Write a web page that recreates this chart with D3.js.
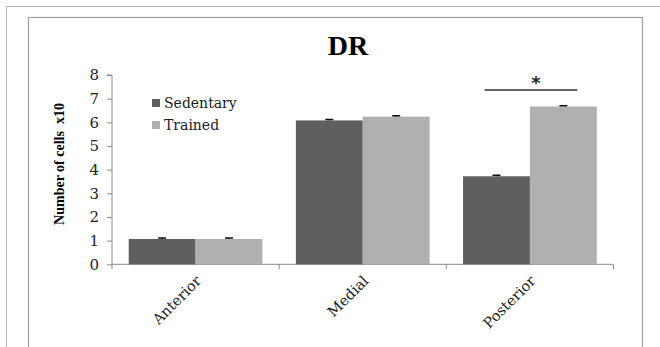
<!DOCTYPE html>
<html><head><meta charset="utf-8">
<script src="https://cdn.jsdelivr.net/npm/d3@7"></script>
<style>body{margin:0;background:#fff}svg{display:block}</style>
</head><body>
<script>
const categories = ["Anterior", "Medial", "Posterior"];
const seriesNames = ["Sedentary", "Trained"];
const sedentary = [1.07, 6.08, 3.72];
const trained = [1.07, 6.24, 6.67];
const sedErr = [0.04, 0.04, 0.04];
const trErr = [0.04, 0.04, 0.03];
const yTicks = [0, 1, 2, 3, 4, 5, 6, 7, 8];
const sigLevel = 7.37;

const W = 660, H = 347;
const svg = d3.select("body").append("svg").attr("width", W).attr("height", H);
const colors = ["#5f5f5f", "#b0b0b0"];

svg.append("path").attr("d", "M6.5,347 V6.5 H660").attr("fill", "none").attr("stroke", "#b8b8b8").attr("stroke-width", 1);
svg.append("rect").attr("x", 28.5).attr("y", 17.5).attr("width", 614).attr("height", 340)
  .attr("fill", "#fff").attr("stroke", "#a0a0a0").attr("stroke-width", 1.2);

const x0 = d3.scaleBand().domain(categories).range([112, 613.5]).paddingInner(0.2).paddingOuter(0.1);
const x0full = d3.scaleBand().domain(categories).range([112, 613.5]);
const x1 = d3.scaleBand().domain(seriesNames).range([0, x0.bandwidth()]);
const y = d3.scaleLinear().domain([0, 8]).range([264.3, 75]);

svg.append("text").attr("x", 348).attr("y", 55).attr("text-anchor", "middle")
  .attr("font-family", "Liberation Serif, serif").attr("font-weight", "bold").attr("font-size", 28).text("DR");

const ya = svg.append("g").attr("transform", "translate(112,0)")
  .call(d3.axisLeft(y).tickValues(yTicks).tickSize(5).tickPadding(8).tickFormat(d3.format("d")));
ya.select(".domain").attr("stroke", "#8a8a8a").attr("d", "M-5,75 H0 V264.3");
ya.selectAll(".tick line").attr("stroke", "#8a8a8a");
ya.selectAll(".tick text").attr("font-family", "DejaVu Serif, serif").attr("font-size", 15).attr("fill", "#222");

const xa = svg.append("g").attr("transform", "translate(0,264.3)");
xa.append("line").attr("x1", 112).attr("x2", 613.5).attr("y1", 0).attr("y2", 0).attr("stroke", "#8a8a8a");
const bounds = [x0full.range()[0]].concat(categories.map(c => x0full(c) + x0full.bandwidth()));
xa.selectAll("line.tk").data(bounds).enter().append("line").attr("class", "tk")
  .attr("x1", d => d).attr("x2", d => d).attr("y1", 0).attr("y2", 5).attr("stroke", "#8a8a8a");
xa.selectAll("text").data(categories).enter().append("text")
  .attr("transform", d => `translate(${x0full(d) + x0full.bandwidth() / 2 + 3},${14}) rotate(-45)`)
  .attr("text-anchor", "end").attr("dy", "0.35em")
  .attr("font-family", "DejaVu Serif, serif").attr("font-size", 14.5).attr("fill", "#222").text(d => d);

svg.append("text").attr("transform", "translate(64,164) rotate(-90)").attr("text-anchor", "middle")
  .attr("font-family", "Liberation Serif, serif").attr("font-weight", "bold").attr("font-size", 14)
  .attr("xml:space", "preserve").text("Number of cells  x10");

const series = [sedentary, trained];
const errs = [sedErr, trErr];
seriesNames.forEach((s, si) => {
  const g = svg.append("g");
  g.selectAll("rect").data(categories).enter().append("rect")
    .attr("x", c => x0(c) + x1(s)).attr("width", x1.bandwidth())
    .attr("y", (c, i) => y(series[si][i])).attr("height", (c, i) => y(0) - y(series[si][i]))
    .attr("fill", colors[si]);
  g.selectAll("path.err").data(categories).enter().append("path").attr("class", "err")
    .attr("d", (c, i) => {
      const cx = x0(c) + x1(s) + x1.bandwidth() / 2;
      const v = series[si][i], e = errs[si][i];
      return `M${cx},${y(v)} V${y(v + e)} M${cx - 4},${y(v + e)} H${cx + 4}`;
    })
    .attr("stroke", "#111").attr("stroke-width", 1.5).attr("fill", "none");
});

const pc = "Posterior";
const sx1 = x0(pc) + x1("Sedentary") + x1.bandwidth() / 2 - 12;
const sx2 = x0(pc) + x1("Trained") + x1.bandwidth() / 2 + 14;
svg.append("line").attr("x1", sx1).attr("x2", sx2).attr("y1", y(sigLevel)).attr("y2", y(sigLevel))
  .attr("stroke", "#333").attr("stroke-width", 1.5);
svg.append("text").attr("x", (sx1 + sx2) / 2 + 5).attr("y", y(sigLevel) - 1).attr("text-anchor", "middle")
  .attr("font-family", "DejaVu Sans, sans-serif").attr("font-weight", "bold").attr("font-size", 18).attr("fill", "#222").text("*");

const lg = svg.append("g").attr("transform", "translate(152,103)");
seriesNames.forEach((s, i) => {
  lg.append("rect").attr("x", 0).attr("y", i * 22 - 4).attr("width", 8).attr("height", 8).attr("fill", colors[i]);
  lg.append("text").attr("x", 12).attr("y", i * 22).attr("dy", "0.35em")
    .attr("font-family", "DejaVu Serif, serif").attr("font-size", 14).attr("fill", "#222").text(s);
});
</script>
</body></html>
